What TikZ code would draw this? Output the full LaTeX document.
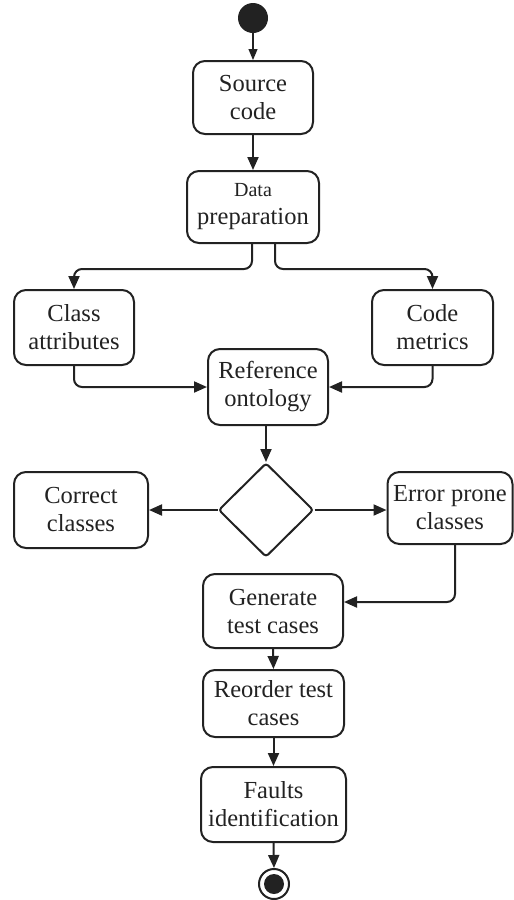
\documentclass[tikz,border=0pt]{standalone}
\usepackage{fontspec}
\setmainfont{Liberation Serif}
\usetikzlibrary{arrows.meta,shapes.geometric,calc}
\definecolor{ink}{HTML}{222222}
\begin{document}
\begin{tikzpicture}[x=1pt,y=-1pt,
  act/.style={draw=ink, text=ink, line width=2pt, rounded corners=12pt, align=center,
    inner sep=0pt, font=\fontsize{24.5}{28}\selectfont},
  flow/.style={draw=ink, line width=2pt, rounded corners=8pt,
    -{Triangle[length=13pt,width=11pt]}},
  thinflow/.style={draw=ink, line width=1.2pt,
    -{Triangle[length=11pt,width=9pt]}}]
\useasboundingbox (0,0) rectangle (514,900);

% initial and final states
\node[circle, fill=ink, minimum size=30pt, inner sep=0pt] (start) at (253,18) {};
\node[circle, draw=ink, line width=2pt, minimum size=30pt, inner sep=0pt] (stop) at (274,884) {};
\node[circle, fill=ink, minimum size=20pt, inner sep=0pt] (stopdot) at (stop.center) {};

% activities
\node[act, minimum width=120pt, minimum height=73pt] (src) at (253,97.5) {Source\\code};
\node[act, minimum width=132pt, minimum height=72pt] (prep) at (253,207)
  {{\fontsize{20}{24}\selectfont Data}\\preparation};
\node[act, minimum width=120pt, minimum height=75pt] (cls) at (74,327.5) {Class\\attributes};
\node[act, minimum width=121pt, minimum height=75pt] (met) at (432.5,327.5) {Code\\metrics};
\node[act, minimum width=120pt, minimum height=76pt] (ref) at (268,387) {Reference\\ontology};
\node[draw=ink, line width=2pt, diamond, rounded corners=3pt, minimum width=95pt,
  minimum height=94pt, inner sep=0pt] (dia) at (266,510) {};
\node[act, minimum width=134pt, minimum height=76pt] (cor) at (81,510) {Correct\\classes};
\node[act, minimum width=125pt, minimum height=72pt] (err) at (450,508) {Error prone\\classes};
\node[act, minimum width=140pt, minimum height=74pt] (gen) at (273,611) {Generate\\test cases};
\node[act, minimum width=141pt, minimum height=67pt] (reo) at (273.5,703.5) {Reorder test\\cases};
\node[act, minimum width=145pt, minimum height=75pt] (fau) at (273.5,804.5) {Faults\\identification};

% control flow
\draw[thinflow] (start.south) -- (src.north);
\draw[flow] (src.south) -- (prep.south |- prep.north);
\draw[flow] ([xshift=-1pt]prep.south) -- ++(0,25) -| (cls.north);
\draw[flow] ([xshift=22pt]prep.south) -- ++(0,25) -| (met.north);
\draw[flow] (cls.south) |- (ref.west);
\draw[flow] (met.south) |- (ref.east);
\draw[flow] (ref.south -| dia.north) -- (dia.north);
\draw[flow] (dia.west) -- (cor.east |- dia.west);
\draw[flow] (dia.east) -- (err.west |- dia.east);
\draw[flow] ([xshift=5pt]err.south) |- ([yshift=9pt]gen.east);
\draw[flow] (gen.south) -- (reo.north);
\draw[flow] (reo.south) -- (fau.north);
\draw[flow] (fau.south) -- (stop.north);
\end{tikzpicture}
\end{document}
